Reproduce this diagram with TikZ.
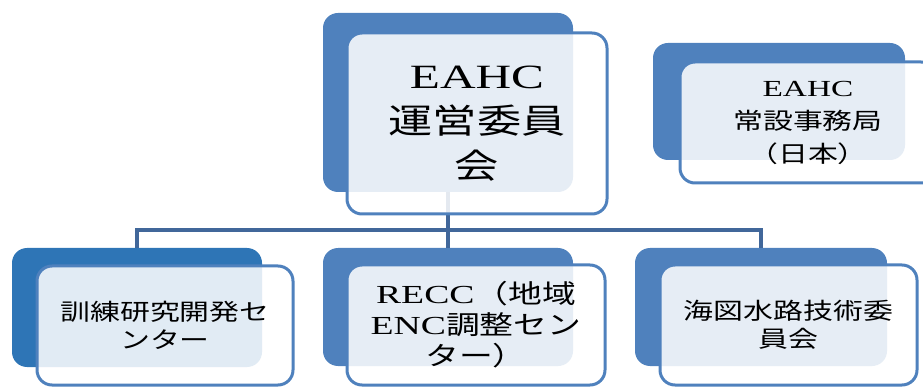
\documentclass[tikz,border=0pt]{standalone}
\usepackage{fontspec}
\setmainfont[FakeStretch=1.45]{Liberation Serif}
\newfontfamily\jp[FakeStretch=1.3]{Noto Sans CJK JP}
\definecolor{accent}{HTML}{4F81BD}
\definecolor{accentb}{HTML}{2E75B6}
\definecolor{linkc}{HTML}{41679A}

\begin{document}
\begin{tikzpicture}
[x=1pt, y=-1pt,
%every node/.style={anchor=center},
back/.style={draw=none, fill=accent, rounded corners=15pt, inner sep=0pt},
front/.style={draw=accent, line width=3pt, fill=white, fill opacity=0.86, text opacity=1,
  rounded corners=15pt, inner sep=0pt, align=center, text=black},
link/.style={draw=linkc, line width=4.5pt, line join=miter}
]

\path[use as bounding box, clip] (0,0) rectangle (923,387);

% back boxes
\path
(448,102.5) node[back, minimum width=250, minimum height=179] (B1) {}
(779,101.5) node[back, minimum width=252, minimum height=117] (B2) {}
(137,307.5) node[back, fill=accentb, minimum width=250, minimum height=119] (B3) {}
(448,307) node[back, minimum width=250, minimum height=118] (B4) {}
(761,307) node[back, minimum width=252, minimum height=118] (B5) {}
;

% draw tree
\coordinate (bus) at (0,230) ;
\draw[link] (B1.south) -- (B1.south |- bus) ;
\draw[link] (B3.north) -- (B3.north |- bus) -- (B5.north |- bus) -- (B5.north) ;
\draw[link] (B4.north |- bus) -- (B4.north) ;

% front boxes
\path
(477,123.5) node[front, minimum width=260, minimum height=181, font=\fontsize{34}{45}\selectfont] (F1)
  {EAHC\\{\jp 運営委員}\\{\jp 会}}
(808,122.5) node[front, minimum width=256, minimum height=121, font=\fontsize{23}{33}\selectfont] (F2)
  {EAHC\\{\jp 常設事務局}\\{\jp （日本）}}
(165,325.5) node[front, minimum width=256, minimum height=119, font=\fontsize{23}{28}\selectfont] (F3)
  {{\jp 訓練研究開発セ}\\{\jp ンター}}
(476,325) node[front, minimum width=258, minimum height=120, font=\fontsize{26}{31}\selectfont] (F4)
  {RECC{\jp （地域}\\ENC{\jp 調整セン}\\{\jp ター）}}
(788.5,325) node[front, minimum width=257, minimum height=120, font=\fontsize{23}{28}\selectfont] (F5)
  {{\jp 海図水路技術委}\\{\jp 員会}}
;

\end{tikzpicture}
\end{document}
